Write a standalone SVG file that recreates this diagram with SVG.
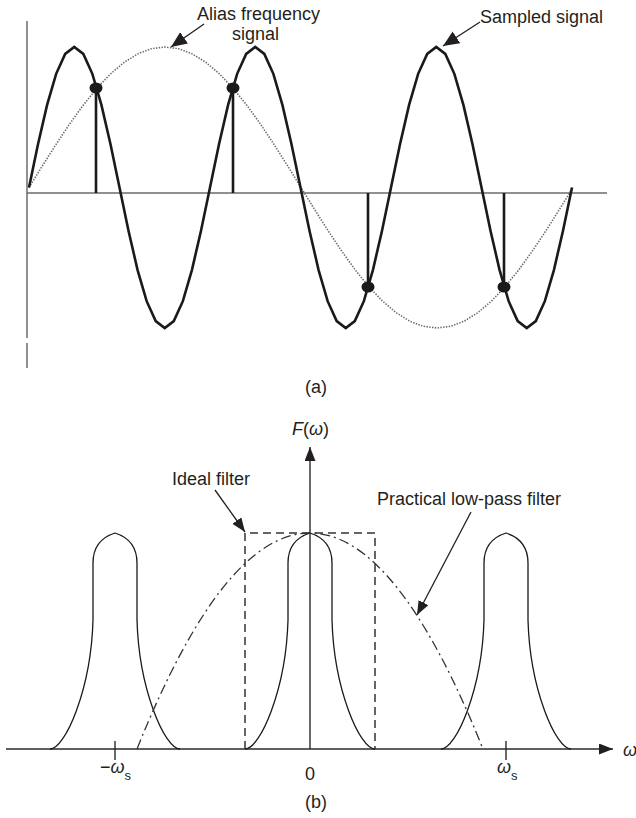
<svg xmlns="http://www.w3.org/2000/svg" width="636" height="818" viewBox="0 0 636 818">
<style>
text{font-family:"Liberation Sans",Arial,sans-serif;font-size:18px;fill:#231f20}
.it{font-style:italic}
.sub{font-size:13px}
.axA{stroke:#6b6b6b;stroke-width:1.5;fill:none}
.sig{stroke:#1a1a1a;stroke-width:2.6;fill:none;stroke-linejoin:miter}
.alias{stroke:#6a6a6a;stroke-width:1.6;fill:none;stroke-dasharray:1.4 1.4}
.stem{stroke:#1a1a1a;stroke-width:2.6}
.dot{fill:#1a1a1a}
.ptr{stroke:#231f20;stroke-width:1.3;fill:none}
.axB{stroke:#2a2a2a;stroke-width:1.4;fill:none}
.pulse{stroke:#1a1a1a;stroke-width:1.3;fill:none}
.ideal{stroke:#333;stroke-width:1.5;fill:none;stroke-dasharray:8 5}
.pract{stroke:#333;stroke-width:1.3;fill:none;stroke-dasharray:10 4 2 4}
</style>
<defs>
<marker id="headA" markerUnits="userSpaceOnUse" markerWidth="16" markerHeight="14" refX="16" refY="7" orient="auto"><path d="M0,0 L16,7 L0,14 z" fill="#231f20"/></marker>
<marker id="headB" markerUnits="userSpaceOnUse" markerWidth="14" markerHeight="11" refX="14" refY="5.5" orient="auto"><path d="M0,0 L14,5.5 L0,11 z" fill="#231f20"/></marker>
</defs>

<g id="panel-a">
<g id="axes-a">
<line class="axA" x1="27" y1="21" x2="27" y2="338"/>
<line class="axA" x1="27" y1="343" x2="27" y2="368"/>
<line class="axA" x1="27" y1="193" x2="607" y2="193" stroke="#7a7a7a"/>
</g>
<g id="alias-signal">
<polyline class="alias" points="29,187.5 42.6,165.52 56.2,144.08 69.8,123.72 83.4,104.92 97,88.15 110.6,73.83 124.2,62.31 137.8,53.87 151.4,48.73 165,47 178.6,48.73 192.2,53.87 205.8,62.31 219.4,73.83 233,88.15 246.6,104.92 260.2,123.72 273.8,144.08 287.4,165.52 301,187.5 314.6,209.48 328.2,230.92 341.8,251.28 355.4,270.08 369,286.85 382.6,301.17 396.2,312.69 409.8,321.13 423.4,326.27 437,328 450.6,326.27 464.2,321.13 477.8,312.69 491.4,301.17 505,286.85 518.6,270.08 532.2,251.28 545.8,230.92 559.4,209.48 573,187.5"/>
</g>
<g id="sampled-signal">
<polyline class="sig" points="29,187.5 38.05,144.08 47.1,104.92 56.15,73.83 65.2,53.87 74.25,47 83.3,53.87 92.35,73.83 101.4,104.92 110.45,144.08 119.5,187.5 128.55,230.92 137.6,270.08 146.65,301.17 155.7,321.13 164.75,328 173.8,321.13 182.85,301.17 191.9,270.08 200.95,230.92 210,187.5 219.05,144.08 228.1,104.92 237.15,73.83 246.2,53.87 255.25,47 264.3,53.87 273.35,73.83 282.4,104.92 291.45,144.08 300.5,187.5 309.55,230.92 318.6,270.08 327.65,301.17 336.7,321.13 345.75,328 354.8,321.13 363.85,301.17 372.9,270.08 381.95,230.92 391,187.5 400.05,144.08 409.1,104.92 418.15,73.83 427.2,53.87 436.25,47 445.3,53.87 454.35,73.83 463.4,104.92 472.45,144.08 481.5,187.5 490.55,230.92 499.6,270.08 508.65,301.17 517.7,321.13 526.75,328 535.8,321.13 544.85,301.17 553.9,270.08 562.95,230.92 572,187.5"/>
</g>
<g id="samples">
<line class="stem" x1="96" y1="193" x2="96" y2="88"/>
<line class="stem" x1="233" y1="193" x2="233" y2="88"/>
<line class="stem" x1="368" y1="193" x2="368" y2="287"/>
<line class="stem" x1="504" y1="193" x2="504" y2="287"/>
<ellipse class="dot" cx="96" cy="88" rx="6.5" ry="5.5"/>
<ellipse class="dot" cx="233" cy="88" rx="6.5" ry="5.5"/>
<ellipse class="dot" cx="368" cy="287" rx="6.5" ry="5.5"/>
<ellipse class="dot" cx="504" cy="287" rx="6.5" ry="5.5"/>
</g>
<g id="label-alias">
<text x="197" y="20">Alias frequency</text>
<text x="232" y="40">signal</text>
</g>
<g id="label-sampled"><text x="480" y="23">Sampled signal</text></g>
<g id="caption-a"><text x="316" y="393" text-anchor="middle">(a)</text></g>
</g>

<g id="panel-b">
<g id="axes-b">
<line class="axB" x1="6" y1="749" x2="613" y2="749" marker-end="url(#headB)"/>
<line class="axB" x1="310" y1="749" x2="310" y2="447" marker-end="url(#headB)"/>
<line class="axB" x1="115" y1="741" x2="115" y2="760"/>
<line class="axB" x1="506" y1="741" x2="506" y2="760"/>
</g>
<g id="spectrum-left"><path class="pulse" d="M50,749 C65,749 91,690 93,620 L93,563 Q93,540 115,533 Q137,540 137,563 L137,620 C139,690 165,749 180,749"/></g>
<g id="spectrum-center"><path class="pulse" d="M245,749 C260,749 286,690 288,620 L288,563 Q288,540 310,533 Q332,540 332,563 L332,620 C334,690 360,749 375,749"/></g>
<g id="spectrum-right"><path class="pulse" d="M441,749 C456,749 482,690 484,620 L484,563 Q484,540 506,533 Q528,540 528,563 L528,620 C530,690 556,749 571,749"/></g>
<g id="ideal-filter"><path class="ideal" d="M245,749 L245,533 L375,533 L375,749"/></g>
<g id="practical-filter"><path class="pract" d="M137,749 Q310,317 483,749"/></g>
<g id="label-F"><text x="292" y="435"><tspan class="it">F</tspan>(<tspan class="it">ω</tspan>)</text></g>
<g id="label-omega"><text x="623" y="756" class="it">ω</text></g>
<g id="label-ideal"><text x="172" y="485">Ideal filter</text></g>
<g id="label-practical"><text x="377" y="505">Practical low-pass filter</text></g>
<g id="tick-labels">
<text x="100" y="773">−<tspan class="it">ω</tspan><tspan class="sub" dy="7">s</tspan></text>
<text x="310" y="780" text-anchor="middle">0</text>
<text x="497" y="773"><tspan class="it">ω</tspan><tspan class="sub" dy="7">s</tspan></text>
</g>
<g id="caption-b"><text x="316" y="808" text-anchor="middle">(b)</text></g>
</g>

<g id="connectors">
<line class="ptr" x1="204" y1="24" x2="171" y2="47" marker-end="url(#headA)"/>
<line class="ptr" x1="480" y1="22" x2="443" y2="46" marker-end="url(#headA)"/>
<line class="ptr" x1="215" y1="490" x2="245" y2="532" marker-end="url(#headB)"/>
<line class="ptr" x1="471" y1="512" x2="417" y2="615" marker-end="url(#headB)"/>
</g>
</svg>
